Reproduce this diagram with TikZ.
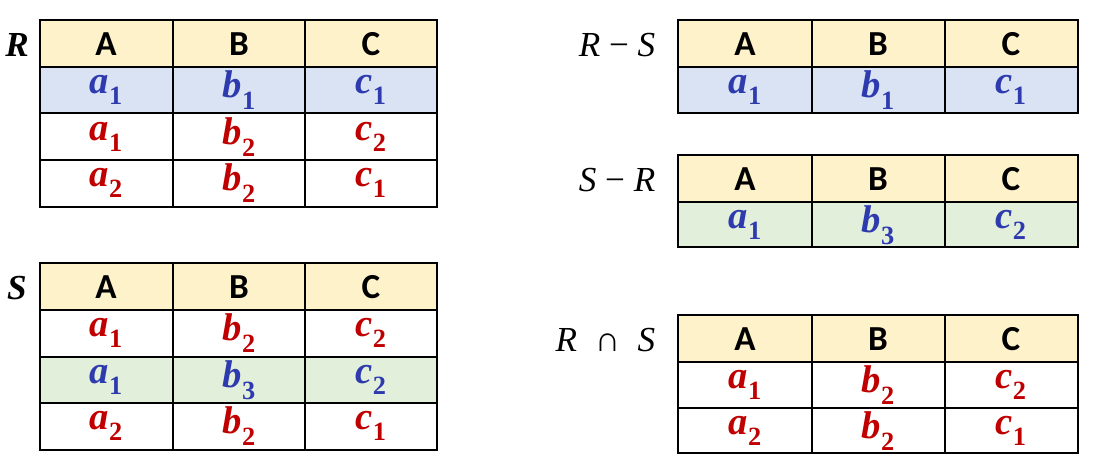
\documentclass[tikz,border=0pt]{standalone}
\usepackage{fontspec}
\setmainfont{Liberation Serif}
\newfontfamily\hdrfont{Carlito}
\definecolor{hdr}{HTML}{FEF2CB}
\definecolor{rowblue}{HTML}{DAE3F3}
\definecolor{rowgreen}{HTML}{E2EFDA}
\definecolor{valred}{HTML}{C00000}
\definecolor{valblue}{HTML}{2E3BAF}
\newcommand{\val}[2]{{\bfseries\itshape #1}\raisebox{-0.3em}{\fontsize{15}{15}\selectfont\bfseries #2}}
\tikzset{
  hd/.style={font=\hdrfont\bfseries\fontsize{20}{20}\selectfont},
  rv/.style={text=valred,font=\fontsize{22}{22}\selectfont},
  bv/.style={text=valblue,font=\fontsize{22}{22}\selectfont},
  lbl/.style={font=\fontsize{20}{20}\selectfont}
}
\begin{document}
\begin{tikzpicture}[x=0.02cm,y=-0.02cm,line width=1pt]
\useasboundingbox (0,0) rectangle (1100,462);
% table R
\fill[hdr] (40,20) rectangle (437,67);
\fill[rowblue] (40,67) rectangle (437,113);
\draw (40,20) rectangle (437,207);
\draw (173,20) -- (173,207);
\draw (305,20) -- (305,207);
\draw (40,67) -- (437,67);
\draw (40,113) -- (437,113);
\draw (40,160) -- (437,160);
\path (17,45) node[lbl] (rlbl) {\textbf{\textit{R}}};
\path (106,44) node[hd] (ra) {A};
\path (239,44) node[hd] (rb) {B};
\path (371,44) node[hd] (rc) {C};
\path (106,90) node[bv] (r11) {\val{a}{1}};
\path (239,90) node[bv] (r12) {\val{b}{1}};
\path (371,90) node[bv] (r13) {\val{c}{1}};
\path (106,137) node[rv] (r21) {\val{a}{1}};
\path (239,137) node[rv] (r22) {\val{b}{2}};
\path (371,137) node[rv] (r23) {\val{c}{2}};
\path (106,183) node[rv] (r31) {\val{a}{2}};
\path (239,183) node[rv] (r32) {\val{b}{2}};
\path (371,183) node[rv] (r33) {\val{c}{1}};
% table S
\fill[hdr] (40,263) rectangle (437,310);
\fill[rowgreen] (40,357) rectangle (437,403);
\draw (40,263) rectangle (437,450);
\draw (173,263) -- (173,450);
\draw (305,263) -- (305,450);
\draw (40,310) -- (437,310);
\draw (40,357) -- (437,357);
\draw (40,403) -- (437,403);
\path (17,288) node[lbl] (slbl) {\textbf{\textit{S}}};
\path (106,287) node[hd] (sa) {A};
\path (239,287) node[hd] (sb) {B};
\path (371,287) node[hd] (sc) {C};
\path (106,333) node[rv] (s11) {\val{a}{1}};
\path (239,333) node[rv] (s12) {\val{b}{2}};
\path (371,333) node[rv] (s13) {\val{c}{2}};
\path (106,380) node[bv] (s21) {\val{a}{1}};
\path (239,380) node[bv] (s22) {\val{b}{3}};
\path (371,380) node[bv] (s23) {\val{c}{2}};
\path (106,426) node[rv] (s31) {\val{a}{2}};
\path (239,426) node[rv] (s32) {\val{b}{2}};
\path (371,426) node[rv] (s33) {\val{c}{1}};
% R - S
\fill[hdr] (678,20) rectangle (1078,67);
\fill[rowblue] (678,67) rectangle (1078,113);
\draw (678,20) rectangle (1078,113);
\draw (812,20) -- (812,113);
\draw (945,20) -- (945,113);
\draw (678,67) -- (1078,67);
\path (662,45) node[lbl,anchor=east] (rslbl) {\textit{R} − \textit{S}};
\path (745,44) node[hd] (rsa) {A};
\path (878,44) node[hd] (rsb) {B};
\path (1011,44) node[hd] (rsc) {C};
\path (745,90) node[bv] (rs1) {\val{a}{1}};
\path (878,90) node[bv] (rs2) {\val{b}{1}};
\path (1011,90) node[bv] (rs3) {\val{c}{1}};
% S - R
\fill[hdr] (678,155) rectangle (1078,202);
\fill[rowgreen] (678,202) rectangle (1078,247);
\draw (678,155) rectangle (1078,247);
\draw (812,155) -- (812,247);
\draw (945,155) -- (945,247);
\draw (678,202) -- (1078,202);
\path (662,180) node[lbl,anchor=east] (srlbl) {\textit{S} − \textit{R}};
\path (745,179) node[hd] (sra) {A};
\path (878,179) node[hd] (srb) {B};
\path (1011,179) node[hd] (src) {C};
\path (745,225) node[bv] (sr1) {\val{a}{1}};
\path (878,225) node[bv] (sr2) {\val{b}{3}};
\path (1011,225) node[bv] (sr3) {\val{c}{2}};
% R cap S
\fill[hdr] (678,315) rectangle (1078,362);
\draw (678,315) rectangle (1078,453);
\draw (812,315) -- (812,453);
\draw (945,315) -- (945,453);
\draw (678,362) -- (1078,362);
\draw (678,408) -- (1078,408);
\path (662,340) node[lbl,anchor=east] (iclbl) {\textit{R} \ ∩ \ \textit{S}};
\path (745,339) node[hd] (ica) {A};
\path (878,339) node[hd] (icb) {B};
\path (1011,339) node[hd] (icc) {C};
\path (745,385) node[rv] (ic11) {\val{a}{1}};
\path (878,385) node[rv] (ic12) {\val{b}{2}};
\path (1011,385) node[rv] (ic13) {\val{c}{2}};
\path (745,431) node[rv] (ic21) {\val{a}{2}};
\path (878,431) node[rv] (ic22) {\val{b}{2}};
\path (1011,431) node[rv] (ic23) {\val{c}{1}};
\end{tikzpicture}
\end{document}
